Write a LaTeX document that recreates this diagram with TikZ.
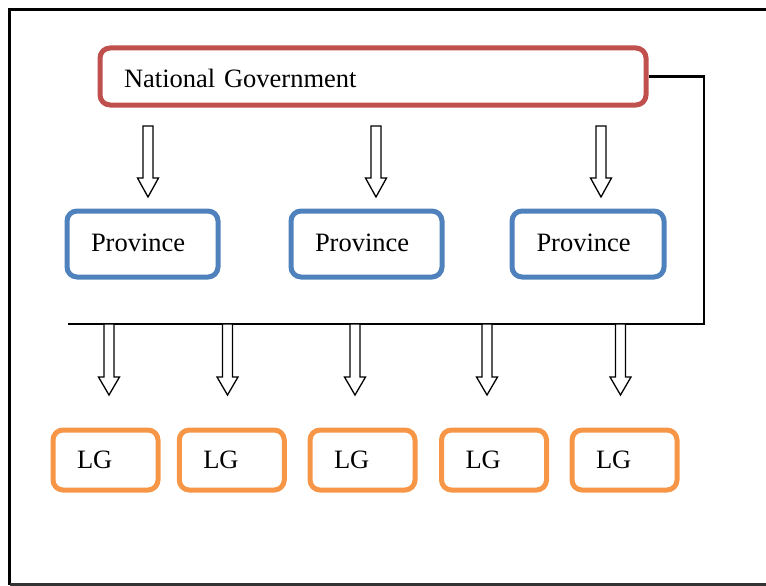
\documentclass[tikz,border=0pt]{standalone}
\usepackage{fontspec}
\setmainfont{Liberation Serif}
\definecolor{ngred}{HTML}{C0504D}
\definecolor{provblue}{HTML}{4F81BD}
\definecolor{lgorange}{HTML}{F79646}
\newcommand\hollowarrow[4]{%
  \draw[arrowline] ({#1-5},#2) -- ({#1-5},#3) -- ({#1-10.5},#3) -- (#1,#4)
    -- ({#1+10.5},#3) -- ({#1+5},#3) -- ({#1+5},#2) -- cycle;}
\begin{document}
\begin{tikzpicture}[x=1pt,y=-1pt,
  box/.style={draw, line width=5pt, rounded corners=10pt, fill=white,
    inner xsep=24pt, inner ysep=0pt, align=left,
    text height=0.662em, text depth=0pt,
    font=\fontsize{26.5}{30}\selectfont},
  ngbox/.style={box, draw=ngred, minimum width=546pt, minimum height=57pt, text width=498pt},
  provbox/.style={box, draw=provblue, minimum width=151pt, minimum height=66pt, text width=103pt},
  lgbox/.style={box, draw=lgorange, minimum width=105pt, minimum height=60pt, text width=57pt},
  arrowline/.style={draw=black, line width=1.3pt, fill=white, line join=miter},
  conn/.style={draw=black, line width=2.5pt},
  frame/.style={draw=black, line width=3pt}]
\useasboundingbox (0,0) rectangle (766,586);
\clip (0,0) rectangle (766,586);
% outer frame
\draw[frame] (780,10) -- (9.5,10) -- (9.5,584.5);
\draw[draw=black!80, line width=2.5pt] (9.5,584.5) -- (780,584.5);

% national government
\node[ngbox] (ng) at (373,76.5) {\raisebox{-8pt}{National Government}};

% provinces
\node[provbox] (p1) at (142.5,244) {\raisebox{-4pt}{Province}};
\node[provbox] (p2) at (366.5,244) {\raisebox{-4pt}{Province}};
\node[provbox, minimum width=152pt] (p3) at (588,244) {\raisebox{-4pt}{Province}};

% local governments
\node[lgbox] (lg1) at (105.5,460) {\raisebox{-5.5pt}{LG}};
\node[lgbox] (lg2) at (231.75,460) {\raisebox{-5.5pt}{LG}};
\node[lgbox] (lg3) at (362.5,460) {\raisebox{-5.5pt}{LG}};
\node[lgbox] (lg4) at (494,460) {\raisebox{-5.5pt}{LG}};
\node[lgbox] (lg5) at (624.5,460) {\raisebox{-5.5pt}{LG}};

% connector
\coordinate (c1) at (704,324);
\coordinate (c2) at (68,324);
\draw[conn] (ng.east) -| (c1) -- (c2);

% arrows national -> provinces
\hollowarrow{148}{126}{178}{197}
\hollowarrow{376}{126}{178}{197}
\hollowarrow{601}{126}{178}{197}

% arrows line -> LGs
\hollowarrow{109}{324}{377}{395}
\hollowarrow{227.5}{324}{377}{395}
\hollowarrow{355}{324}{377}{395}
\hollowarrow{487}{324}{377}{395}
\hollowarrow{620.5}{324}{377}{395}
\end{tikzpicture}
\end{document}
